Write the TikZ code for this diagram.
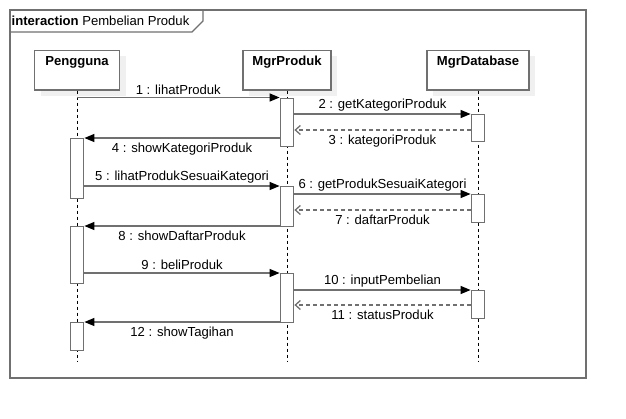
\documentclass[tikz,border=0pt]{standalone}
\usepackage{fontspec}
\setmainfont{Liberation Sans}
\usetikzlibrary{arrows.meta}
\usetikzlibrary{shapes}
\usetikzlibrary{shadows}

\begin{document}
\begin{tikzpicture}[x=1pt, y=-1pt, font=\fontsize{13.1}{15}\selectfont]
                \definecolor{linegray}{HTML}{707070}
                \tikzstyle{object} = [draw=linegray, line width=1.3pt, fill=white, minimum height=39.5pt, inner xsep=0pt, inner ysep=6pt, text height=9.4pt, text depth=18.5pt, anchor=north, font=\fontsize{13.1}{15}\selectfont\bfseries, drop shadow={shadow xshift=6pt, shadow yshift=-6pt, fill=black!6, opacity=1}]
                \tikzstyle{act} = [draw=linegray, line width=1.3pt, fill=white, minimum width=13.5pt, inner sep=0pt, anchor=north]
                \tikzstyle{lifeline} = [black, line width=0.9pt, dash pattern=on 3pt off 3pt]
                \tikzstyle{call} = [draw=linegray, line width=1.3pt, -{Triangle[length=10pt, width=8pt, black]}]
                \tikzstyle{reply} = [draw=linegray, line width=1.3pt, dash pattern=on 4pt off 3pt, -{Straight Barb[length=5pt, width=9pt]}]
                \tikzstyle{msgup} = [midway, above, inner sep=2.5pt]
                \tikzstyle{msgdown} = [midway, below, inner sep=4pt]
                \useasboundingbox (0,0) rectangle (626,418);

                % Frame
                \draw[linegray, line width=1.5pt] (10,10) rectangle (586,378);
                \node[anchor=west, inner sep=1.5pt] (title) at (10,21) {\textbf{interaction} Pembelian Produk};
                \draw[linegray, line width=1.3pt] (10,32) -- (192,32) -- (203,21) -- (203,10);

                % Objects and lifelines
                \node[object, minimum width=85pt] (user) at (77,49.5) {Pengguna};
                \node[object, minimum width=88pt] (prod) at (287,49.5) {MgrProduk};
                \node[object, minimum width=102pt] (db) at (478,49.5) {MgrDatabase};
                \coordinate (end) at (0,362);
                \draw[lifeline] (user.south) -- (user.south |- end);
                \draw[lifeline] (prod.south) -- (prod.south |- end);
                \draw[lifeline] (db.south) -- (db.south |- end);

                % Activations
                \node[act, minimum height=60pt] (u1) at (77,138) {};
                \node[act, minimum height=57pt] (u2) at (77,226) {};
                \node[act, minimum height=28pt] (u3) at (77,322) {};
                \node[act, minimum height=48.5pt] (p1) at (287,97.5) {};
                \node[act, minimum height=40pt] (p2) at (287,186) {};
                \node[act, minimum height=49pt] (p3) at (287,273) {};
                \node[act, minimum height=27pt] (d1) at (478,114) {};
                \node[act, minimum height=28pt] (d2) at (478,194) {};
                \node[act, minimum height=28pt] (d3) at (478,290) {};
                \coordinate (r3) at (0,130);
                \coordinate (r7) at (0,210);
                \coordinate (r11) at (0,305);

                % Messages
                \draw[call] (user.south |- p1.north) -- (p1.north west) node[msgup] {1 : lihatProduk};
                \draw[call] (p1.east |- d1.north) -- (d1.north west) node[msgup] {2 : getKategoriProduk};
                \draw[reply] (d1.west |- r3) -- (p1.east |- r3) node[msgdown] {3 : kategoriProduk};
                \draw[call] (p1.west |- u1.north) -- (u1.north east) node[msgdown] {4 : showKategoriProduk};
                \draw[call] (u1.east |- p2.north) -- (p2.north west) node[msgup] {5 : lihatProdukSesuaiKategori};
                \draw[call] (p2.east |- d2.north) -- (d2.north west) node[msgup] {6 : getProdukSesuaiKategori};
                \draw[reply] (d2.west |- r7) -- (p2.east |- r7) node[msgdown] {7 : daftarProduk};
                \draw[call] (p2.west |- u2.north) -- (u2.north east) node[msgdown] {8 : showDaftarProduk};
                \draw[call] (u2.east |- p3.north) -- (p3.north west) node[msgup] {9 : beliProduk};
                \draw[call] (p3.east |- d3.north) -- (d3.north west) node[msgup] {10 : inputPembelian};
                \draw[reply] (d3.west |- r11) -- (p3.east |- r11) node[msgdown] {11 : statusProduk};
                \draw[call] (p3.west |- u3.north) -- (u3.north east) node[msgdown] {12 : showTagihan};
\end{tikzpicture}
\end{document}
